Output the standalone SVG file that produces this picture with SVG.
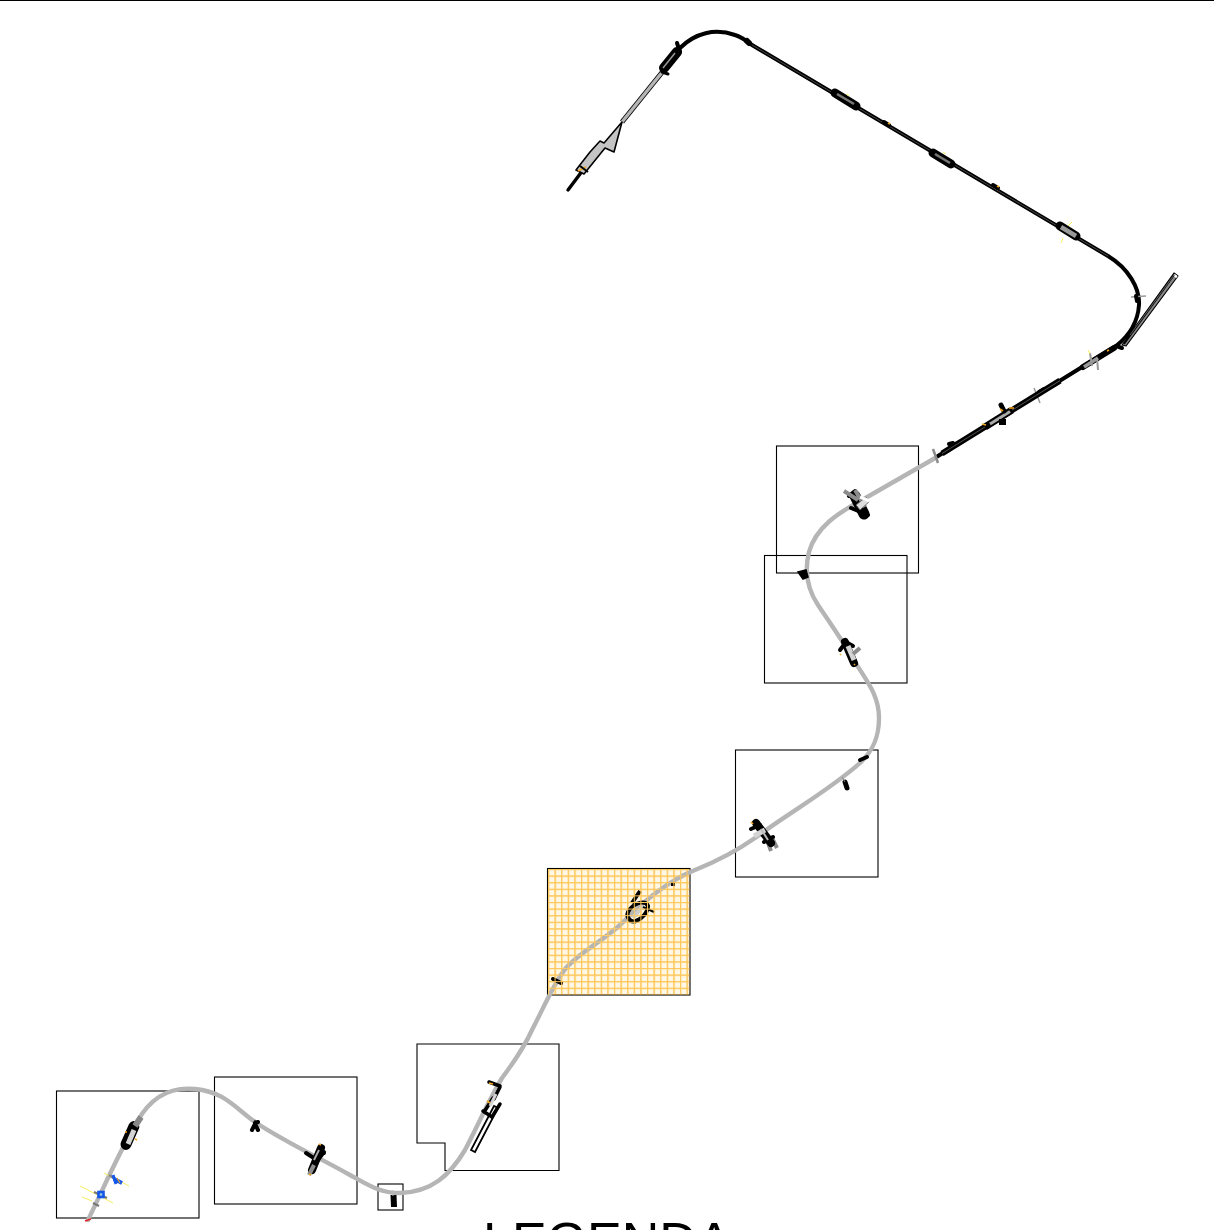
<svg xmlns="http://www.w3.org/2000/svg" width="1214" height="1230" viewBox="0 0 1214 1230">
<defs>
<pattern id="grid" x="548" y="869" width="6.6" height="6.6" patternUnits="userSpaceOnUse">
<rect width="6.6" height="6.6" fill="#fff8e6"/>
<path d="M0 0H6.6M0 0V6.6" stroke="#ffc95e" stroke-width="2.4" fill="none"/>
</pattern>
<pattern id="gridlines" x="548" y="869" width="6.6" height="6.6" patternUnits="userSpaceOnUse">
<path d="M0 0H6.6M0 0V6.6" stroke="#ffc95e" stroke-width="2" fill="none"/>
</pattern>
</defs>
<style>
.box{fill:none;stroke:#000;stroke-width:1.1}
.route{fill:none;stroke:#b5b5b5;stroke-width:4.4;stroke-linecap:round;stroke-linejoin:round}
.rail{fill:none;stroke:#000;stroke-width:4;stroke-linecap:round;stroke-linejoin:round}
.core{fill:none;stroke:#666;stroke-width:.7;stroke-linecap:round}
.blk{fill:none;stroke:#000;stroke-width:7;stroke-linecap:round}
.blk2{fill:none;stroke:#000;stroke-width:4;stroke-linecap:round}
.gry{fill:none;stroke:#8c8c8c;stroke-width:4;stroke-linecap:butt}
.lgt{fill:none;stroke:#d4d4d4;stroke-width:4;stroke-linecap:butt}
.yel{fill:none;stroke:#f7ee5a;stroke-width:1}
.org{fill:none;stroke:#f2a81d;stroke-width:1.6}
.blu{fill:none;stroke:#1557e8;stroke-width:4}
text{font-family:"Liberation Sans",Arial,sans-serif;fill:#000}
</style>
<path d="M0 0.5H1214" stroke="#000" stroke-width="1.2"/>
<g id="frames">
<rect class="box" x="776.5" y="446" width="142" height="127"/>
<rect class="box" x="764.5" y="555.5" width="142.500" height="127.500"/>
<rect class="box" x="735.500" y="750" width="142.500" height="127"/>
<rect x="547.500" y="868.500" width="142.500" height="126.500" fill="url(#grid)" stroke="#000" stroke-width="1.100"/>
<path class="box" d="M417 1044H559V1170.500H445V1143H417Z"/>
<rect class="box" x="214.500" y="1077" width="142.500" height="127"/>
<rect class="box" x="56.500" y="1091" width="142.500" height="127"/>
<rect class="box" x="378" y="1184" width="25" height="26"/>
</g>
<g id="connectors">
<path class="route" d="M937 457L862 500C838 513 816 527 809 552C804 572 808 590 818 605C828 620 842 640 855 662C866 680 879 695 879 718C879 736 874 750 860 763C830 790 790 812 755 838C735 852 715 862 695 870C665 882 640 905 620 925C600 943 580 952 566 968C555 981 545 1005 532 1030C524 1048 514 1062 502 1078C490 1098 478 1125 465 1150C450 1175 432 1192 400 1193C380 1193 368 1185 350 1175C320 1158 285 1142 255 1122C235 1108 225 1092 195 1089C165 1086 148 1102 137 1122C120 1150 105 1185 88 1220"/>
<path d="M622 122L668 65" stroke="#000" stroke-width="5" fill="none"/>
<path d="M622 122L668 65" stroke="#b5b5b5" stroke-width="3.400" fill="none"/>
<path class="rail" d="M680 48C695 33 715 28 735 35C742 37 748 42 752 45L1108 256C1128 268 1140 288 1139 305C1138 320 1130 335 1116 346L938 456"/>
<path class="core" d="M752 45L1108 256"/>
<path class="rail" style="stroke-width:3.400" d="M568 190L583 170"/>
</g>
<g id="station-terminal">
<path d="M576 170L590 152L600 141L604 143L622 122L614 152L605 148L584 174Z" fill="#c4c4c4" stroke="#000" stroke-width="1.600" stroke-linejoin="round"/>
<path d="M578 171L586 167" class="org"/>
<path d="M580 166L588 172" stroke="#000" stroke-width="2"/>
</g>
<g id="station-north">
<path class="blk" d="M664 68L677 52" style="stroke-width:10"/>
<path class="blk2" d="M677 43L680 52"/>
<path class="blk2" d="M662 72L668 74" style="stroke-width:3"/>
<path d="M663 68L675 53" stroke="#999" stroke-width="1.500"/>
</g>
<g id="marker-a"><path class="blk" d="M747 41L749 43" style="stroke-width:6"/></g>
<g id="marker-b"><path class="blk2" d="M884 122L889 125"/><path class="org" d="M888 123L890 124"/></g>
<g id="marker-c"><path class="blk2" d="M993 185L998 188"/><path class="org" d="M997 186L999 187"/></g>
<g id="tube-1">
<path d="M835 93L856 106" stroke="#000" stroke-width="9" stroke-linecap="round"/>
<path d="M837 94L854 104" stroke="#777" stroke-width="2.600"/>
<path class="yel" d="M846 94L849 96"/>
</g>
<g id="tube-2">
<path d="M933 153L951 164" stroke="#000" stroke-width="9" stroke-linecap="round"/>
<path d="M935 154L950 163" stroke="#777" stroke-width="2.600"/>
<path class="yel" d="M943 152L946 154"/>
</g>
<g id="tube-3">
<path d="M1060 226L1076 236" stroke="#000" stroke-width="9" stroke-linecap="round"/>
<path d="M1061 227L1076 236" stroke="#999" stroke-width="4.500"/>
<path class="yel" d="M1068 226L1072 222M1063 238L1061 243"/>
</g>
<g id="branch-east">
<path d="M1122 345L1174 273L1178 276L1126 346Z" fill="#888" stroke="#000" stroke-width="1.200" stroke-linejoin="round"/>
<path d="M1174 275L1177 277" stroke="#fff" stroke-width="2.500"/>
<path d="M1124 344L1174 275" stroke="#000" stroke-width="1.800"/>
<path d="M1130 335L1174 275" stroke="#888" stroke-width=".7"/>
</g>
<g id="marker-d">
<path d="M1131 297L1146 296" stroke="#999" stroke-width="1.500"/>
<path class="blk2" d="M1136 296L1137 301"/>
</g>
<g id="station-east">
<path class="blk" d="M1083 367L1114 348" style="stroke-width:6"/>
<path d="M1084 367L1098 358" stroke="#999" stroke-width="3.500"/>
<path d="M1090 353L1092 366M1097 358L1098 370" stroke="#999" stroke-width="2"/>
<path class="blk2" d="M1116 346L1122 348"/>
<path class="org" d="M1107 351L1109 350"/>
<path class="yel" d="M1088 350L1090 354"/>
</g>
<g id="marker-e">
<path d="M1034 388L1040 403" stroke="#999" stroke-width="1.500"/>
<path class="blk2" d="M1039 392L1044 389"/>
</g>
<g id="bundle-1"><path d="M942 453.500L1060 380.600" stroke="#000" stroke-width="6"/><path d="M942 453.500L1060 380.600" stroke="#666" stroke-width=".8"/></g>
<g id="station-central">
<path d="M985 427L1012 410" stroke="#000" stroke-width="7"/>
<path d="M990 424L1010 411.500" stroke="#aaa" stroke-width="3"/>
<path class="blk" d="M1001 405L1004 411" style="stroke-width:5"/>
<path d="M999 422H1006" stroke="#000" stroke-width="6"/>
<path class="org" d="M1009 408L1014 408M982 424L986 425M1000 409L1003 411"/>
</g>
<g id="marker-f">
<path d="M933 449L938 463" stroke="#8c8c8c" stroke-width="2.500"/>
<path class="blk2" d="M949 444L953 443"/>
</g>
<g id="station-1">
<path class="blk" d="M855 496L864 514" style="stroke-width:11"/>
<path class="blk2" d="M851 508L868 515M849 496L855 491"/>
<path class="gry" d="M844 491L858 500M855 490L865 507"/>
<path d="M856 505L866 497L870 501L860 510Z" fill="#ddd" stroke="#555" stroke-width=".8"/>
<path d="M860 497L870 501" stroke="#fff" stroke-width="3"/>
</g>
<g id="marker-g"><path d="M798 572L806 570L808 577L803 579Z" fill="#000" stroke="#000" stroke-width="1.500"/></g>
<g id="station-2">
<path d="M845 642L854 663" stroke="#000" stroke-width="8" stroke-linecap="round"/>
<path class="blk2" d="M840 650L846 642L853 646"/>
<path class="lgt" d="M848 646L854 660" style="stroke-width:5"/>
<path class="gry" d="M853 654L860 648"/>
<path class="org" d="M840 654L841 655M854 664L855 665"/>
</g>
<g id="marker-h"><path class="blk2" d="M860 760L867 757"/></g>
<g id="marker-i"><path class="blk2" d="M845 782L847 788" style="stroke-width:5"/><path d="M842 777L845 782" stroke="#888" stroke-width="1"/></g>
<g id="station-3">
<path class="gry" d="M767 840L771 851M772 838L777 848"/>
<path class="blk" d="M756 823L771 843" style="stroke-width:8"/>
<path class="blk2" d="M751 829L760 825M764 842L773 837"/>
<path class="lgt" d="M754 836L765 830" style="stroke-width:5"/>
<path d="M761 829L768 840" stroke="#bbb" stroke-width="2"/>
<path class="org" d="M751 822L753 824"/>
</g>
<g id="station-4">
<path d="M640 891L632 903M630 909C624 916 630 923 636 921C642 919 648 912 648 906C646 900 636 902 630 909Z" fill="none" stroke="#000" stroke-width="4"/>
<path d="M633 918L643 906" stroke="#ccc" stroke-width="4"/>
<path d="M643 907L654 912" stroke="#000" stroke-width="2"/>
</g>
<g id="marker-j"><rect x="671" y="882" width="4" height="4"/></g>
<g id="marker-k"><path class="blk2" d="M553 979L561 983"/></g>
<rect id="grid-overlay" x="548" y="869" width="141.500" height="125.500" fill="url(#gridlines)"/>
<g id="station-5">
<path d="M471 1150L475 1152L498 1108L494 1106Z" fill="#fff" stroke="#000" stroke-width="1.800"/>
<path class="blk2" d="M489 1082L500 1086M500 1087L494 1099M493 1098L484 1112M483 1111L492 1117L500 1104" style="stroke-width:3.500"/>
<path class="lgt" style="stroke-width:3" d="M496 1094L490 1106"/>
<path class="org" d="M487 1101L490 1103M489 1083L493 1084"/>
</g>
<g id="marker-l">
<path d="M393.500 1195L394 1207" stroke="#000" stroke-width="6"/>
<path d="M393 1190V1196" stroke="#bbb" stroke-width="1"/>
</g>
<g id="station-6">
<path class="blk" d="M312 1170L321 1148" style="stroke-width:8"/>
<path class="blk2" d="M306 1153L317 1160M314 1165L324 1152M319 1149L324 1153"/>
<path class="gry" d="M309 1175L314 1165"/>
<path d="M314 1160L319 1150" stroke="#aaa" stroke-width="2"/>
<path class="org" d="M319 1144L321 1145M309 1174L311 1175"/>
</g>
<g id="marker-m">
<path class="blk2" d="M252 1130L255 1124L258 1130"/>
<path class="blk2" d="M255 1123L258 1122"/>
</g>
<g id="station-7">
<path d="M128 1145L132 1126" stroke="#000" stroke-width="11" stroke-linecap="round" transform="rotate(12 130 1135)"/>
<path class="lgt" d="M128 1144L134 1130" style="stroke-width:5"/>
<path d="M135 1126L141 1117" stroke="#888" stroke-width="6"/>
<path class="org" d="M125 1132L127 1132M135 1139L137 1140"/>
</g>
<g id="valves">
<path class="yel" d="M104 1173L129 1186M80 1186L113 1203M82 1197L92 1201"/>
<path d="M109 1175L118 1181" stroke="#888" stroke-width="2.500"/>
<path class="blu" d="M114 1179L122 1183"/>
<path d="M113 1175L116 1184" stroke="#1557e8" stroke-width="3"/>
<path class="org" d="M117 1178L120 1183" style="stroke-width:1.200"/>
<path d="M94 1192L107 1198" stroke="#777" stroke-width="2"/>
<rect x="98.500" y="1192" width="5" height="5" fill="#9cc" stroke="#1557e8" stroke-width="2.600"/>
<path d="M93 1203L99 1206" stroke="#777" stroke-width="2"/>
<path d="M85 1221L91 1219" stroke="#e8242a" stroke-width="1.500"/>
</g>
<text x="483" y="1259" font-size="52">LEGENDA</text>
</svg>
